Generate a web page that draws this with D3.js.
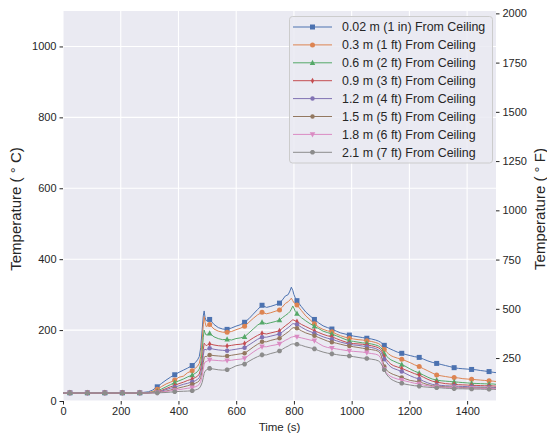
<!DOCTYPE html>
<html>
<head>
<meta charset="utf-8">
<script src="https://cdn.jsdelivr.net/npm/d3@7/dist/d3.min.js"></script>
<style>
  html, body { margin: 0; padding: 0; background: #ffffff; }
  svg { display: block; font-family: "Liberation Sans", Arial, sans-serif; }
</style>
</head>
<body>
<svg id="chart" width="547" height="436"></svg>
<script>
// ---------------- DATA ----------------
const time = [
  0, 24, 84.5, 145, 205.5, 266, 296, 311, 326.5, 342,
  357, 372, 387, 402, 417, 432, 447.5, 458, 466, 472,
  477, 482, 486, 489, 492, 496, 500, 508, 523, 538,
  553, 568.5, 584, 599, 614, 629, 644, 659, 674, 689.5,
  705, 720, 735, 750, 760, 770, 780, 786, 791, 796,
  800, 805, 810.5, 826, 841, 856, 871, 886, 901, 916,
  931.5, 947, 962, 977, 992, 1007, 1022, 1037, 1052.5, 1068,
  1083, 1093, 1100, 1106, 1113, 1120, 1128, 1136, 1144, 1158,
  1173.5, 1188, 1203, 1218, 1234, 1249, 1264, 1279, 1294.5, 1310,
  1325, 1340, 1355, 1370, 1385, 1400, 1415.5, 1431, 1446, 1461,
  1476, 1490, 1500
];

const markerTimes = [24, 84.5, 145, 205.5, 266, 326.5, 387, 447.5, 508, 568.5, 629, 689.5,
  750, 810.5, 871, 931.5, 992, 1052.5, 1113, 1173.5, 1234, 1294.5, 1355, 1415.5, 1476];

const t002m = [
  23, 23, 23, 23, 23, 23, 26, 31, 40, 50,
  59, 67, 74, 81, 87, 93, 100, 108, 116, 125,
  150, 200, 240, 254, 236, 226, 228, 230, 216, 207,
  203, 202, 206, 211, 215, 222, 232, 245, 258, 270,
  264, 267, 271, 276, 285, 296, 300, 310, 321, 312,
  300, 290, 283, 266, 251, 240, 230, 220, 212, 207,
  203, 197, 192, 189, 186, 183, 181, 179, 177, 175,
  172, 169, 166, 162, 157, 153, 149, 146, 143, 138,
  134.5, 131, 128, 125, 123, 118, 113, 109, 106, 103,
  100, 97, 94, 92, 91, 90, 89, 88, 86, 84.5,
  83, 81, 80
];
const t03m = [
  23, 23, 23, 23, 23, 23, 24, 27, 33, 41,
  48, 53, 59, 67, 70, 80, 85, 92, 98, 106,
  125, 170, 215, 238, 222, 210, 212, 216, 203, 197,
  194, 194, 196, 201, 205, 211, 222, 233, 243, 250,
  246, 249, 253, 257, 265, 275, 280, 285, 290, 283,
  277, 274, 271, 255, 240, 229, 218, 208, 202, 198,
  195, 189, 184, 180, 177, 175, 173, 172, 170, 168,
  165, 162, 158, 152, 145, 139, 133, 128, 125, 121,
  118, 113, 108, 102, 97, 91, 85, 79, 73, 71,
  69, 67, 66, 65, 63, 62, 61, 60, 59, 58,
  57, 56, 55
];
const t06m = [
  23, 23, 23, 23, 23, 23, 23, 25, 28, 34,
  40, 46, 52, 57, 62, 68, 73, 78, 83, 90,
  105, 140, 180, 200, 192, 186, 188, 191, 181, 176,
  173, 174, 172, 176, 178, 181, 192, 203, 214, 222,
  218, 221, 224, 228, 235, 241, 247, 252, 259, 268,
  262, 252, 247, 235, 226, 218, 211, 204, 197, 193,
  189, 184, 179, 174, 170, 168, 166, 164, 163, 161,
  158, 155, 151, 146, 134, 127, 121, 116, 113, 108,
  103, 97, 90, 84, 79, 73, 67, 62, 59, 57,
  56, 55, 54, 53, 52, 51, 50, 49.5, 49, 48.5,
  48, 48, 47
];
const t09m = [
  23, 23, 23, 23, 23, 23, 23, 24, 26, 30,
  35, 40, 44, 49, 53, 58, 62, 66, 70, 76,
  90, 115, 145, 163, 160, 156, 158, 161, 158, 156,
  155, 155, 157, 159, 160, 162, 170, 178, 185, 191,
  189, 192, 195, 198, 205, 212, 218, 222, 226, 229,
  228, 226, 224, 216, 210, 204, 198, 193, 188, 184,
  181, 176, 171, 167, 163, 162, 161, 160, 158, 156,
  153, 150, 146, 138, 125, 117, 110, 104, 100, 96,
  92, 87, 82, 77, 73, 67, 61, 56, 53, 51,
  49, 48, 47, 46, 45.5, 45, 44, 44, 43.5, 43,
  43, 42.5, 42
];
const t12m = [
  23, 23, 23, 23, 23, 23, 23, 24, 25, 28,
  32, 36, 39, 43, 47, 50, 54, 57, 61, 66,
  78, 100, 128, 145, 146, 144, 146, 149, 146, 144,
  143, 142, 144, 146, 148, 150, 158, 166, 174, 180,
  180, 183, 186, 189, 195, 201, 207, 211, 215, 218,
  218, 217, 216, 208, 201, 196, 191, 186, 181, 177,
  174, 170, 166, 163, 160, 158, 157, 155, 153, 151,
  148, 144, 140, 131, 118, 110, 102, 96, 92, 88,
  83, 77, 71, 66, 62, 56, 51, 47, 45, 44,
  43, 42.5, 42, 41.5, 41, 40.5, 40, 39.5, 39.5, 39,
  39, 38.5, 38
];
const t15m = [
  23, 23, 23, 23, 23, 23, 23, 23, 24, 26,
  28, 31, 34, 37, 40, 43, 47, 50, 53, 57,
  66, 84, 108, 122, 126, 125, 127, 130, 128, 127,
  126, 127, 129, 131, 133, 134.5, 143, 152, 160, 167,
  167, 171, 174, 177, 183, 189, 195, 199, 203, 206,
  207, 206, 205, 198, 192, 188, 184, 179, 174, 169,
  166, 163, 160, 157, 155, 153, 151, 149, 147, 145,
  143, 140, 133, 117, 97, 88, 82, 78, 75, 71,
  66, 62, 58, 56, 54, 50, 46, 43, 42, 41,
  40, 39.5, 39, 38.5, 38, 37.5, 37, 37, 37, 36.5,
  36.5, 36, 36
];
const t18m = [
  23, 23, 23, 23, 23, 23, 23, 23, 23.5, 25,
  27, 28.5, 30, 32, 34, 36, 37.5, 40, 43, 47,
  55, 70, 90, 104, 110, 111, 113, 116, 115, 114,
  113, 114, 115, 117, 118, 120, 129, 138, 146, 153,
  153, 156, 158, 161, 166, 171, 175, 178, 180, 181,
  182, 181, 181, 178, 175, 172, 170, 162, 155, 151,
  149, 147, 145, 143, 141, 140, 139, 138, 136, 134,
  132, 129, 122, 108, 90, 80, 73, 69, 66, 62,
  59, 56, 53, 50, 48, 45, 43, 41, 40, 39,
  38.5, 38, 37.5, 37, 36.5, 36.5, 36, 36, 35.5, 35.5,
  35, 35, 35
];
const t21m = [
  23, 23, 23, 23, 23, 23, 23, 23, 23, 23.5,
  24, 25, 26, 27, 27.5, 28, 29, 31, 33, 36,
  42, 52, 66, 78, 84, 87, 89, 92, 90, 88,
  87, 88, 93, 99, 102, 104, 112, 119, 125, 130,
  130, 134, 137, 141, 146, 151, 155, 158, 160, 161,
  161, 160, 160, 157, 153, 150, 147, 142, 138, 135,
  133, 131, 129, 128, 127, 125, 123, 121, 120, 118,
  116, 113, 108, 99, 88, 76, 68, 62, 58, 53,
  50, 47, 45, 43, 42, 40, 39, 38, 37.5, 37,
  36, 35.5, 35, 34.5, 34.5, 34, 34, 33.5, 33.5, 33,
  33, 33, 32.5
];

const seriesLabels = [
  "0.02 m (1 in) From Ceiling", "0.3 m (1 ft) From Ceiling", "0.6 m (2 ft) From Ceiling",
  "0.9 m (3 ft) From Ceiling", "1.2 m (4 ft) From Ceiling", "1.5 m (5 ft) From Ceiling",
  "1.8 m (6 ft) From Ceiling", "2.1 m (7 ft) From Ceiling"
];
const seriesValues = [t002m, t03m, t06m, t09m, t12m, t15m, t18m, t21m];

const xTicks = [0, 200, 400, 600, 800, 1000, 1200, 1400];
const yTicksC = [0, 200, 400, 600, 800, 1000];
const yTicksF = [250, 500, 750, 1000, 1250, 1500, 1750, 2000];

// ---------------- STYLE ----------------
const colors = ["#4C72B0", "#DD8452", "#55A868", "#C44E52", "#8172B3", "#937860", "#DA8BC3", "#8C8C8C"];
const markerShapes = ["square", "circle", "triangle", "thindiamond", "circle", "circle", "triangledown", "octagon"];
const markerSizes = [5, 5, 5.5, 6, 4.5, 4.5, 5.5, 5];

const W = 547, H = 436;
const m = { left: 63, right: 496, top: 11, bottom: 401 };
const svg = d3.select("#chart");

const x = d3.scaleLinear().domain([0, 1500]).range([m.left, m.right]);
const y = d3.scaleLinear().domain([0, 1100]).range([m.bottom, m.top]);
const yF = d3.scaleLinear().domain([0 * 1.8 + 32, 1100 * 1.8 + 32]).range([m.bottom, m.top]);

const textColor = "#262626";

svg.append("rect").attr("x", m.left).attr("y", m.top)
  .attr("width", m.right - m.left).attr("height", m.bottom - m.top)
  .attr("fill", "#EAEAF2");

// grid
const grid = svg.append("g");
grid.selectAll("line.gx").data(xTicks).enter().append("line")
  .attr("x1", d => x(d)).attr("x2", d => x(d))
  .attr("y1", m.top).attr("y2", m.bottom)
  .attr("stroke", "#ffffff").attr("stroke-width", 1.1);
grid.selectAll("line.gy").data(yTicksC).enter().append("line")
  .attr("x1", m.left).attr("x2", m.right)
  .attr("y1", d => y(d)).attr("y2", d => y(d))
  .attr("stroke", "#ffffff").attr("stroke-width", 1.1);

// axes
const xAxis = d3.axisBottom(x).tickValues(xTicks).tickSize(3.5).tickPadding(3).tickFormat(d3.format("d"));
const yAxis = d3.axisLeft(y).tickValues(yTicksC).tickSize(3.5).tickPadding(3).tickFormat(d3.format("d"));
const yAxisR = d3.axisRight(yF).tickValues(yTicksF).tickSize(3.5).tickPadding(3).tickFormat(d3.format("d"));

function styleAxis(g) {
  g.select(".domain").remove();
  g.selectAll(".tick line").attr("stroke", textColor).attr("stroke-width", 1);
  g.selectAll(".tick text").attr("fill", textColor).style("font-size", "11px")
    .style("font-family", "'Liberation Sans', Arial, sans-serif");
}
svg.append("g").attr("transform", `translate(0,${m.bottom})`).call(xAxis).call(styleAxis);
svg.append("g").attr("transform", `translate(${m.left},0)`).call(yAxis).call(styleAxis);
svg.append("g").attr("transform", `translate(${m.right},0)`).call(yAxisR).call(styleAxis);

// labels
svg.append("text").attr("x", (m.left + m.right) / 2).attr("y", 431)
  .attr("text-anchor", "middle").attr("fill", textColor)
  .style("font-size", "11.5px").text("Time (s)");
svg.append("text").attr("transform", "translate(21,209) rotate(-90)")
  .attr("text-anchor", "middle").attr("fill", textColor)
  .style("font-size", "15px").text("Temperature ( ° C)");
svg.append("text").attr("transform", "translate(545,209) rotate(-90)")
  .attr("text-anchor", "middle").attr("fill", textColor)
  .style("font-size", "15px").text("Temperature ( ° F)");

// marker path generator
function markerPath(shape, s) {
  const h = s / 2;
  switch (shape) {
    case "square": return `M${-h},${-h}H${h}V${h}H${-h}Z`;
    case "triangle": return `M0,${-h * 1.1}L${h},${h * 0.8}L${-h},${h * 0.8}Z`;
    case "triangledown": return `M0,${h * 1.1}L${h},${-h * 0.8}L${-h},${-h * 0.8}Z`;
    case "thindiamond": return `M0,${-h}L${h * 0.55},0L0,${h}L${-h * 0.55},0Z`;
    case "octagon": {
      const pts = d3.range(8).map(i => {
        const a = Math.PI / 8 + i * Math.PI / 4;
        return [h * Math.cos(a), h * Math.sin(a)];
      });
      return "M" + pts.map(p => p.join(",")).join("L") + "Z";
    }
    default: {
      return `M${h},0A${h},${h} 0 1,1 ${-h},0A${h},${h} 0 1,1 ${h},0Z`;
    }
  }
}

// lines and markers
const clip = svg.append("clipPath").attr("id", "plotclip").append("rect")
  .attr("x", m.left).attr("y", m.top).attr("width", m.right - m.left).attr("height", m.bottom - m.top);
const plot = svg.append("g").attr("clip-path", "url(#plotclip)");
const line = d3.line().x(d => x(d[0])).y(d => y(d[1]));
const markerSet = new Set(markerTimes);

seriesValues.forEach((vals, i) => {
  const pts = time.map((t, k) => [t, vals[k]]);
  plot.append("path").datum(pts).attr("d", line)
    .attr("fill", "none").attr("stroke", colors[i]).attr("stroke-width", 1)
    .attr("stroke-linejoin", "round");
  plot.selectAll(null).data(pts.filter(p => markerSet.has(p[0]))).enter().append("path")
    .attr("transform", d => `translate(${x(d[0])},${y(d[1])})`)
    .attr("d", markerPath(markerShapes[i], markerSizes[i]))
    .attr("fill", colors[i]);
});

// legend
const lg = svg.append("g");
lg.append("rect").attr("x", 289.5).attr("y", 16.5).attr("width", 203).attr("height", 146.5)
  .attr("rx", 3).attr("fill", "#EAEAF2").attr("fill-opacity", 0.85)
  .attr("stroke", "#CCCCCC").attr("stroke-width", 1);
seriesLabels.forEach((lab, i) => {
  const yy = 27 + i * 17.9;
  lg.append("line").attr("x1", 293).attr("x2", 332).attr("y1", yy).attr("y2", yy)
    .attr("stroke", colors[i]).attr("stroke-width", 1);
  lg.append("path").attr("transform", `translate(312.5,${yy})`)
    .attr("d", markerPath(markerShapes[i], markerSizes[i])).attr("fill", colors[i]);
  lg.append("text").attr("x", 342).attr("y", yy).attr("dy", "0.35em")
    .attr("fill", textColor).style("font-size", "12.4px").text(lab);
});
</script>
</body>
</html>
